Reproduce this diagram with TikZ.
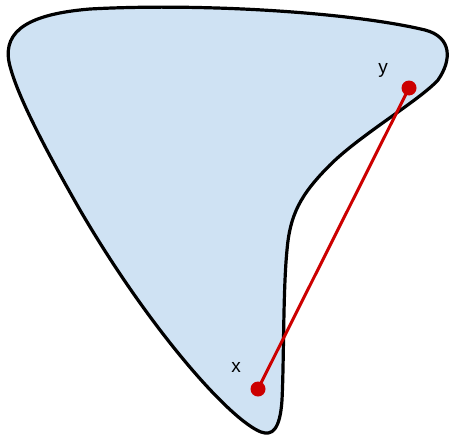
\documentclass[tikz,border=0pt]{standalone}
\usepackage{fontspec}
\setmainfont{Liberation Sans}
\definecolor{blobfill}{RGB}{207,226,243}
\definecolor{segred}{RGB}{204,0,0}
\tikzset{
  blob/.style={draw=black, line width=3.2pt, fill=blobfill, line join=round},
  seg/.style={draw=segred, line width=3pt},
  dotpt/.style={circle, fill=segred, inner sep=0pt, minimum size=15pt},
  lbl/.style={font=\fontsize{19}{19}\selectfont, text=black, inner sep=0pt}
}
\begin{document}
\begin{tikzpicture}[x=1pt,y=-1pt]
\useasboundingbox (0,0) rectangle (449,436);
\draw[blob] (90,9)
  .. controls (200,3) and (350,12) .. (425,30)
  .. controls (452,37) and (452,60) .. (438,80)
  .. controls (420,100) and (360,135) .. (330,165)
  .. controls (300,195) and (290,215) .. (287,250)
  .. controls (283,290) and (284,360) .. (282,400)
  .. controls (280,430) and (272,436) .. (261,432)
  .. controls (230,420) and (150,330) .. (80,210)
  .. controls (40,140) and (15,90) .. (9,62)
  .. controls (3,30) and (30,14) .. (90,9) -- cycle;
\node[dotpt] (y) at (409,88) {};
\node[dotpt] (x) at (258,389) {};
\draw[seg] (x.center) -- (y.center);
\node[lbl] (ylbl) at (383,70) {y};
\node[lbl] (xlbl) at (236,367) {x};
\end{tikzpicture}
\end{document}
